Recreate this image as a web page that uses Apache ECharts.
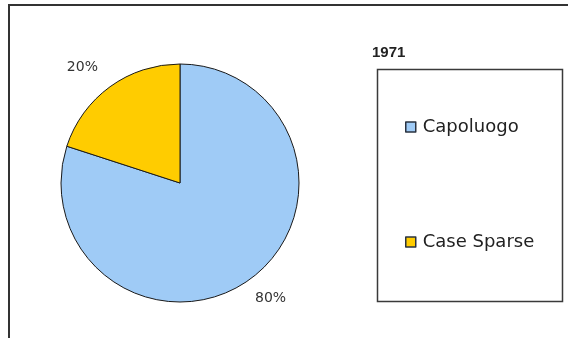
<!DOCTYPE html>
<html>
<head>
<meta charset="utf-8">
<script src="https://cdn.jsdelivr.net/npm/echarts@6/dist/echarts.min.js"></script>
<style>
  html, body { margin: 0; padding: 0; background: #fff; }
  #chart { width: 568px; height: 338px; }
</style>
</head>
<body>
<div id="chart"></div>
<script>
const categories = ['Capoluogo', 'Case Sparse'];
const values = [80, 20];
const sliceColors = ['#9fcbf6', '#ffcc00'];
const legendTitle = '1971';

const chart = echarts.init(document.getElementById('chart'), null, { renderer: 'canvas' });

const labelDistance = [-9, -2];

chart.setOption({
  animation: false,
  backgroundColor: '#ffffff',
  title: {
    text: legendTitle,
    left: 372,
    top: 45,
    padding: 0,
    textStyle: { fontFamily: 'Liberation Sans, Arial, sans-serif', fontSize: 15, fontWeight: 'bold', color: '#222' }
  },
  graphic: [{
    type: 'rect',
    shape: { x: 9, y: 5, width: 600, height: 400 },
    style: { fill: 'none', stroke: '#333', lineWidth: 2 },
    silent: true
  }, {
    type: 'rect',
    shape: { x: 377.5, y: 69.5, width: 185, height: 232 },
    style: { fill: 'none', stroke: '#3a3a3a', lineWidth: 1.5 },
    silent: true
  }],
  legend: {
    orient: 'vertical',
    left: 405,
    top: 118,
    data: categories,
    icon: 'rect',
    itemWidth: 10,
    itemHeight: 10,
    itemGap: 97,
    padding: 0,
    itemStyle: { borderColor: '#2a3340', borderWidth: 1.5 },
    textStyle: { fontFamily: 'DejaVu Sans, Verdana, sans-serif', fontSize: 18, lineHeight: 18, color: '#222', padding: [0, 0, 0, 2] }
  },
  series: [{
    type: 'pie',
    center: [180, 183],
    radius: 119,
    startAngle: 90,
    clockwise: true,
    color: sliceColors,
    itemStyle: { borderColor: '#1a1a1a', borderWidth: 1 },
    label: {
      show: true,
      position: 'outside',
      formatter: '{d}%',
      fontFamily: 'DejaVu Sans, Verdana, sans-serif',
      fontSize: 14,
      color: '#333'
    },
    labelLine: { show: false, length: 24, length2: 0 },
    data: categories.map((c, i) => ({
      name: c,
      value: values[i],
      label: { distanceToLabelLine: labelDistance[i] }
    }))
  }]
});
</script>
</body>
</html>
